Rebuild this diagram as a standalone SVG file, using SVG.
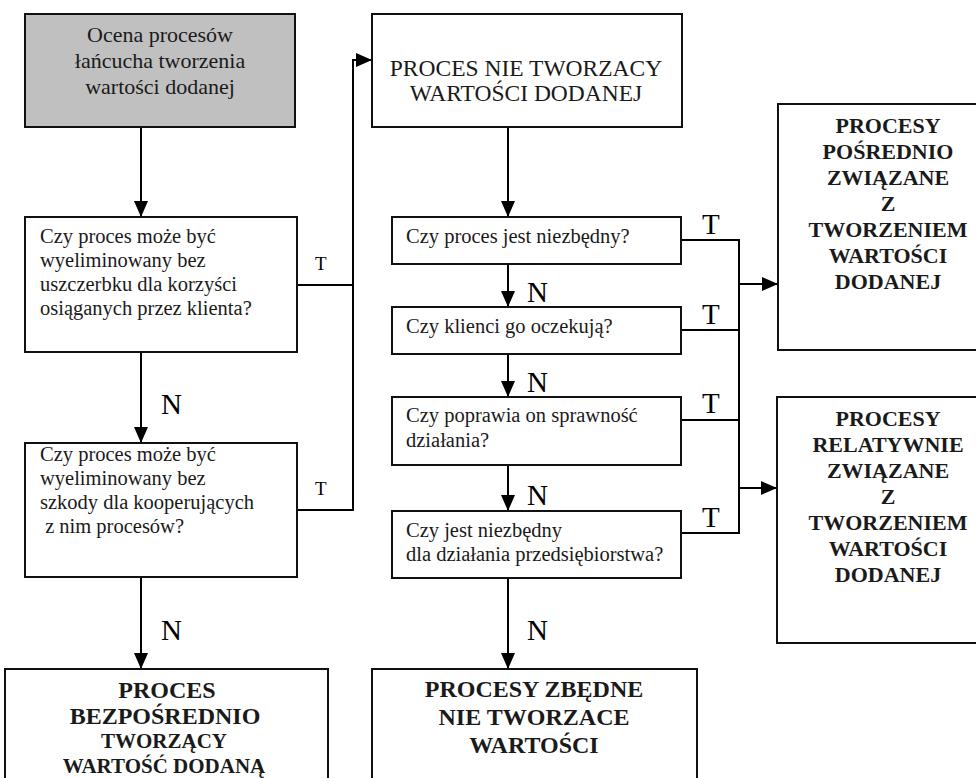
<svg xmlns="http://www.w3.org/2000/svg" width="976" height="778" viewBox="0 0 976 778">
<style>
.box{fill:#fff;stroke:#111;stroke-width:2}
.gray{fill:#c0c0c0;stroke:#111;stroke-width:2}
.ln{fill:none;stroke:#000;stroke-width:2}
.q{font-family:"Liberation Serif",serif;font-size:20.5px;fill:#1a1a1a}
.t1{font-family:"Liberation Serif",serif;font-size:22px;fill:#1a1a1a;text-anchor:middle}
.t2{font-family:"Liberation Serif",serif;font-size:23.5px;fill:#1a1a1a;text-anchor:middle}
.b{font-family:"Liberation Serif",serif;font-weight:bold;fill:#1a1a1a;text-anchor:middle}
.lbl{font-family:"Liberation Serif",serif;font-size:29px;fill:#000}
.lbs{font-family:"Liberation Serif",serif;font-size:19px;fill:#000}
</style>
<defs>
<marker id="ah" markerUnits="userSpaceOnUse" markerWidth="16" markerHeight="14" refX="16" refY="7" orient="auto">
<path d="M0,0 L16,7 L0,14 z" fill="#000"/>
</marker>
</defs>
<rect width="976" height="778" fill="#fff"/>

<g id="connectors">
<line class="ln" x1="141" y1="127" x2="141" y2="217" marker-end="url(#ah)"/>
<line class="ln" x1="141" y1="352" x2="141" y2="443" marker-end="url(#ah)"/>
<line class="ln" x1="141" y1="577" x2="141" y2="669" marker-end="url(#ah)"/>
<polyline class="ln" points="297,285 353,285"/>
<polyline class="ln" points="297,510 353,510 353,60 372,60" marker-end="url(#ah)"/>
<line class="ln" x1="508" y1="127" x2="508" y2="217" marker-end="url(#ah)"/>
<line class="ln" x1="508" y1="264" x2="508" y2="307" marker-end="url(#ah)"/>
<line class="ln" x1="508" y1="354" x2="508" y2="397" marker-end="url(#ah)"/>
<line class="ln" x1="508" y1="465" x2="508" y2="511" marker-end="url(#ah)"/>
<line class="ln" x1="508" y1="578" x2="508" y2="669" marker-end="url(#ah)"/>
<polyline class="ln" points="681,240 739,240 739,533 681,533"/>
<line class="ln" x1="681" y1="330" x2="739" y2="330"/>
<line class="ln" x1="681" y1="420" x2="739" y2="420"/>
<line class="ln" x1="739" y1="284" x2="778" y2="284" marker-end="url(#ah)"/>
<line class="ln" x1="739" y1="488" x2="777" y2="488" marker-end="url(#ah)"/>
<text class="lbs" x="315" y="270">T</text>
<text class="lbs" x="315" y="495">T</text>
<text class="lbl" x="161" y="414">N</text>
<text class="lbl" x="161" y="640">N</text>
<text class="lbl" x="702" y="234">T</text>
<text class="lbl" x="702" y="324">T</text>
<text class="lbl" x="702" y="413">T</text>
<text class="lbl" x="702" y="527">T</text>
<text class="lbl" x="527" y="302">N</text>
<text class="lbl" x="527" y="392">N</text>
<text class="lbl" x="527" y="505">N</text>
<text class="lbl" x="527" y="640">N</text>
</g>

<g id="start">
<rect class="gray" x="25" y="14" width="270" height="113"/>
<text class="t1" x="160" y="42">Ocena procesów</text>
<text class="t1" x="160" y="68">łańcucha tworzenia</text>
<text class="t1" x="160" y="94">wartości dodanej</text>
</g>

<g id="q1">
<rect class="box" x="25" y="217" width="272" height="135"/>
<text class="q" x="40" y="243">Czy proces może być</text>
<text class="q" x="40" y="267">wyeliminowany bez</text>
<text class="q" x="40" y="291">uszczerbku dla korzyści</text>
<text class="q" x="40" y="315">osiąganych przez klienta?</text>
</g>

<g id="q2">
<rect class="box" x="25" y="443" width="272" height="134"/>
<text class="q" x="40" y="461">Czy proces może być</text>
<text class="q" x="40" y="485">wyeliminowany bez</text>
<text class="q" x="40" y="509">szkody dla kooperujących</text>
<text class="q" x="40" y="533" xml:space="preserve"> z nim procesów?</text>
</g>

<g id="direct">
<rect class="box" x="5" y="669" width="323" height="130"/>
<text class="b" x="167" y="698" font-size="24">PROCES</text>
<text class="b" x="165" y="724" font-size="24">BEZPOŚREDNIO</text>
<text class="b" x="164" y="748" font-size="21">TWORZĄCY</text>
<text class="b" x="164" y="773" font-size="21">WARTOŚĆ DODANĄ</text>
</g>

<g id="nonvalue">
<rect class="box" x="372" y="14" width="310" height="113"/>
<text class="t2" x="526" y="76">PROCES NIE TWORZACY</text>
<text class="t2" x="526" y="101">WARTOŚCI DODANEJ</text>
</g>

<g id="m1">
<rect class="box" x="392" y="217" width="289" height="47"/>
<text class="q" x="406" y="243">Czy proces jest niezbędny?</text>
</g>

<g id="m2">
<rect class="box" x="392" y="307" width="289" height="47"/>
<text class="q" x="406" y="333">Czy klienci go oczekują?</text>
</g>

<g id="m3">
<rect class="box" x="392" y="397" width="289" height="68"/>
<text class="q" x="406" y="422">Czy poprawia on sprawność</text>
<text class="q" x="406" y="447">działania?</text>
</g>

<g id="m4">
<rect class="box" x="392" y="511" width="289" height="67"/>
<text class="q" x="406" y="537">Czy jest niezbędny</text>
<text class="q" x="406" y="561">dla działania przedsiębiorstwa?</text>
</g>

<g id="redundant">
<rect class="box" x="372" y="669" width="325" height="130"/>
<text class="b" x="534" y="697" font-size="24">PROCESY ZBĘDNE</text>
<text class="b" x="534" y="725" font-size="24">NIE TWORZACE</text>
<text class="b" x="534" y="753" font-size="24">WARTOŚCI</text>
</g>

<g id="indirect">
<rect class="box" x="778" y="104" width="220" height="246"/>
<text class="b" x="888" y="133" font-size="22">PROCESY</text>
<text class="b" x="888" y="159" font-size="22">POŚREDNIO</text>
<text class="b" x="888" y="185" font-size="22">ZWIĄZANE</text>
<text class="b" x="888" y="211" font-size="22">Z</text>
<text class="b" x="888" y="237" font-size="22">TWORZENIEM</text>
<text class="b" x="888" y="263" font-size="22">WARTOŚCI</text>
<text class="b" x="888" y="289" font-size="22">DODANEJ</text>
</g>

<g id="relative">
<rect class="box" x="777" y="397" width="220" height="246"/>
<text class="b" x="888" y="426" font-size="22">PROCESY</text>
<text class="b" x="888" y="452" font-size="22">RELATYWNIE</text>
<text class="b" x="888" y="478" font-size="22">ZWIĄZANE</text>
<text class="b" x="888" y="504" font-size="22">Z</text>
<text class="b" x="888" y="530" font-size="22">TWORZENIEM</text>
<text class="b" x="888" y="556" font-size="22">WARTOŚCI</text>
<text class="b" x="888" y="582" font-size="22">DODANEJ</text>
</g>
</svg>
